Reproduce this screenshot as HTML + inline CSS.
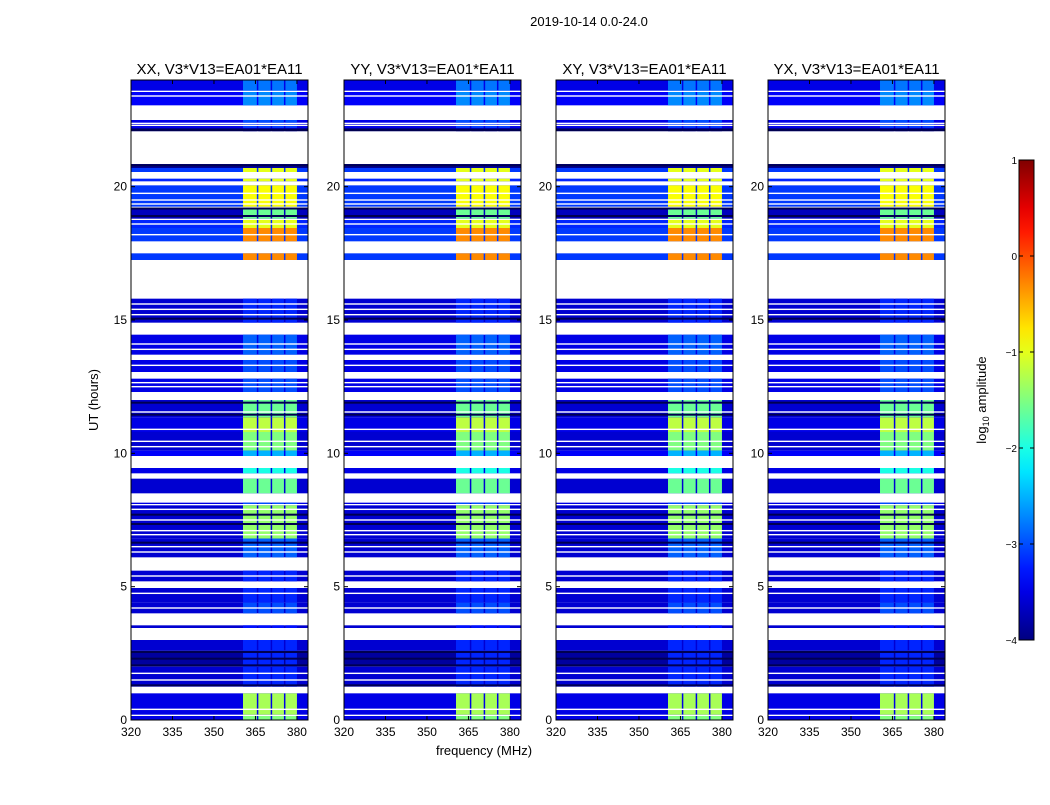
<!DOCTYPE html>
<html><head><meta charset="utf-8">
<style>
body{margin:0;background:#fff;font-family:"Liberation Sans",sans-serif;}
svg text{font-family:"Liberation Sans",sans-serif;}
</style></head>
<body>
<svg id="chart" width="1050" height="800" viewBox="0 0 1050 800" xmlns="http://www.w3.org/2000/svg">
<text x="589" y="26" font-size="13" text-anchor="middle">2019-10-14 0.0-24.0</text>
<text x="98" y="400" font-size="13" text-anchor="middle" transform="rotate(-90 98 400)">UT (hours)</text>
<text x="484" y="755" font-size="13" text-anchor="middle">frequency (MHz)</text>
<g id="panels"></g>
<g id="cbar"></g>
</svg>
<script>
const panelTitles = ["XX, V3*V13=EA01*EA11","YY, V3*V13=EA01*EA11","XY, V3*V13=EA01*EA11","YX, V3*V13=EA01*EA11"];
const panelLefts = [131,344,556,768];
const xTicks = [320,335,350,365,380];
const yTicks = [0,5,10,15,20];
const cbarTicks = [1,0,-1,-2,-3,-4];
// segments: start hour, end hour, background log amp, band log amp
const segStart = [23.6,23.05,22.4,22.2,22.08,20.7,20.55,20.2,19.25,18.8,18.45,17.95,17.25,14.9,13.7,13.05,12.3,11.35,10.8,10.1,9.9,9.25,8.5,8.1,6.8,6.1,5.2,4.4,4.0,3.45,2.6,2.0,1.25,0.2,0.0];
const segEnd   = [24,23.55,22.5,22.35,22.2,20.85,20.7,20.3,20.05,19.2,18.75,18.45,17.5,15.8,14.45,13.5,12.8,12.0,11.35,10.8,10.1,9.45,9.05,8.15,8.05,6.8,5.6,4.95,4.4,3.55,3.0,2.6,2.0,1.0,0.15];
const segBg    = [-3.5,-3.4,-3.5,-3.5,-3.9,-3.9,-3.1,-3.2,-3.1,-3.7,-3.2,-3.1,-3.1,-3.6,-3.5,-3.5,-3.5,-3.6,-3.5,-3.6,-3.4,-3.5,-3.6,-3.5,-3.6,-3.6,-3.6,-3.6,-3.6,-3.6,-3.6,-3.85,-3.6,-3.5,-3.5];
const segBand  = [-2.8,-2.7,-3.0,-3.1,-3.8,-3.8,-1.0,-1.0,-0.9,-1.6,-1.0,-0.3,-0.3,-3.2,-2.9,-3.0,-3.0,-1.6,-1.2,-1.5,-2.5,-2.0,-1.6,-3.0,-1.4,-2.9,-3.2,-3.2,-3.0,-3.3,-3.2,-3.2,-3.2,-1.3,-1.5];
const gapHours = [23.4,22.3,20.42,20.12,19.75,19.5,19.35,18.6,18.2,15.6,15.4,15.2,14.1,13.9,13.3,12.65,12.5,11.55,10.9,10.45,10.25,7.9,7.5,7.1,6.95,6.5,6.3,5.4,4.75,4.2,1.75,1.5,0.4];
const darkHours = [22.12,20.8,19.18,18.9,15.05,11.9,11.45,7.7,7.35,6.65,2.55,2.3,2.05,1.3];
const bandEdges = [360.5,365.5,370.5,375.3,380];

const NS="http://www.w3.org/2000/svg";
const PW=177, TOP=80, BOT=720;
function yS(h){return BOT-(h/24)*(BOT-TOP);}
function xS(f,left){return left+(f-320)/64*PW;}
function cl(v){return Math.max(0,Math.min(1,v));}
function jet(v){const t=cl((v+4)/5);
 const r=cl(1.5-Math.abs(4*t-3)),g=cl(1.5-Math.abs(4*t-2)),b=cl(1.5-Math.abs(4*t-1));
 return `rgb(${Math.round(r*255)},${Math.round(g*255)},${Math.round(b*255)})`;}
function mk(tag,attrs,parent){const e=document.createElementNS(NS,tag);for(const k in attrs)e.setAttribute(k,attrs[k]);parent.appendChild(e);return e;}

const panels=document.getElementById('panels');
panelLefts.forEach((L,pi)=>{
 const g=mk('g',{},panels);
 
 
 const t=mk('text',{x:L+PW/2,y:74,'font-size':15,'text-anchor':'middle'},g);
 t.textContent=panelTitles[pi];
 
 
 for(let i=0;i<segStart.length;i++){
  const y1=yS(segEnd[i]),y2=yS(segStart[i]);
  const r=mk('rect',{x:L,y:y1,width:PW,height:y2-y1,fill:jet(segBg[i])},g);
  
  
  for(let b=0;b<bandEdges.length-1;b++){
   const x1=xS(bandEdges[b],L)+(b>0?1.5:0),x2=xS(bandEdges[b+1],L);
   const br=mk('rect',{x:x1,y:y1,width:x2-x1,height:y2-y1,fill:jet(segBand[i])},g);
   
   
  }
 }
 darkHours.forEach(h=>{const y=yS(h);
  const d=mk('rect',{x:L,y:y-1,width:PW,height:2,fill:'#000050'},g);
  
  });
 gapHours.forEach(h=>{const y=yS(h);
  const w=mk('rect',{x:L,y:y-0.7,width:PW,height:1.4,fill:'#fff'},g);
  
  });
 mk('rect',{x:L,y:TOP,width:PW,height:BOT-TOP,fill:'none',stroke:'#000','stroke-width':1},g);
 xTicks.forEach(v=>{const x=xS(v,L);
  mk('line',{x1:x,x2:x,y1:BOT,y2:BOT-4,stroke:'#000'},g);
  mk('line',{x1:x,x2:x,y1:TOP,y2:TOP+4,stroke:'#000'},g);
  const tx=mk('text',{x:x,y:BOT+16,'font-size':12,'text-anchor':'middle'},g);tx.textContent=v;
  
  });
 yTicks.forEach(v=>{const y=yS(v);
  mk('line',{x1:L,x2:L+4,y1:y,y2:y,stroke:'#000'},g);
  mk('line',{x1:L+PW,x2:L+PW-4,y1:y,y2:y,stroke:'#000'},g);
  const ty=mk('text',{x:L-4,y:y+4,'font-size':12,'text-anchor':'end'},g);ty.textContent=v;
  
  });
});
// colorbar
const cb=document.getElementById('cbar');
const CX=1019,CW=15,CT=160,CB=640;
const defs=mk('defs',{},cb);
const lg=mk('linearGradient',{id:'jetg',x1:0,y1:1,x2:0,y2:0},defs);
for(let i=0;i<=20;i++){mk('stop',{offset:i/20,'stop-color':jet(-4+5*i/20)},lg);}
mk('rect',{x:CX,y:CT,width:CW,height:CB-CT,fill:'url(#jetg)',stroke:'#000'},cb);
cbarTicks.forEach(v=>{const y=CT+(1-v)/5*(CB-CT);
 mk('line',{x1:CX,x2:CX+4,y1:y,y2:y,stroke:'#000'},cb);
 mk('line',{x1:CX+CW,x2:CX+CW-4,y1:y,y2:y,stroke:'#000'},cb);
 const t=mk('text',{x:CX-2,y:y+4,'font-size':10,'text-anchor':'end'},cb);
 t.textContent=v<0?'\u2212'+(-v):v;
 
 });
const cl2=mk('text',{x:986,y:400,'font-size':13,'text-anchor':'middle',transform:'rotate(-90 986 400)'},cb);
cl2.innerHTML='log<tspan font-size="9" dy="3">10</tspan><tspan dy="-3"> amplitude</tspan>';


</script>
</body></html>
